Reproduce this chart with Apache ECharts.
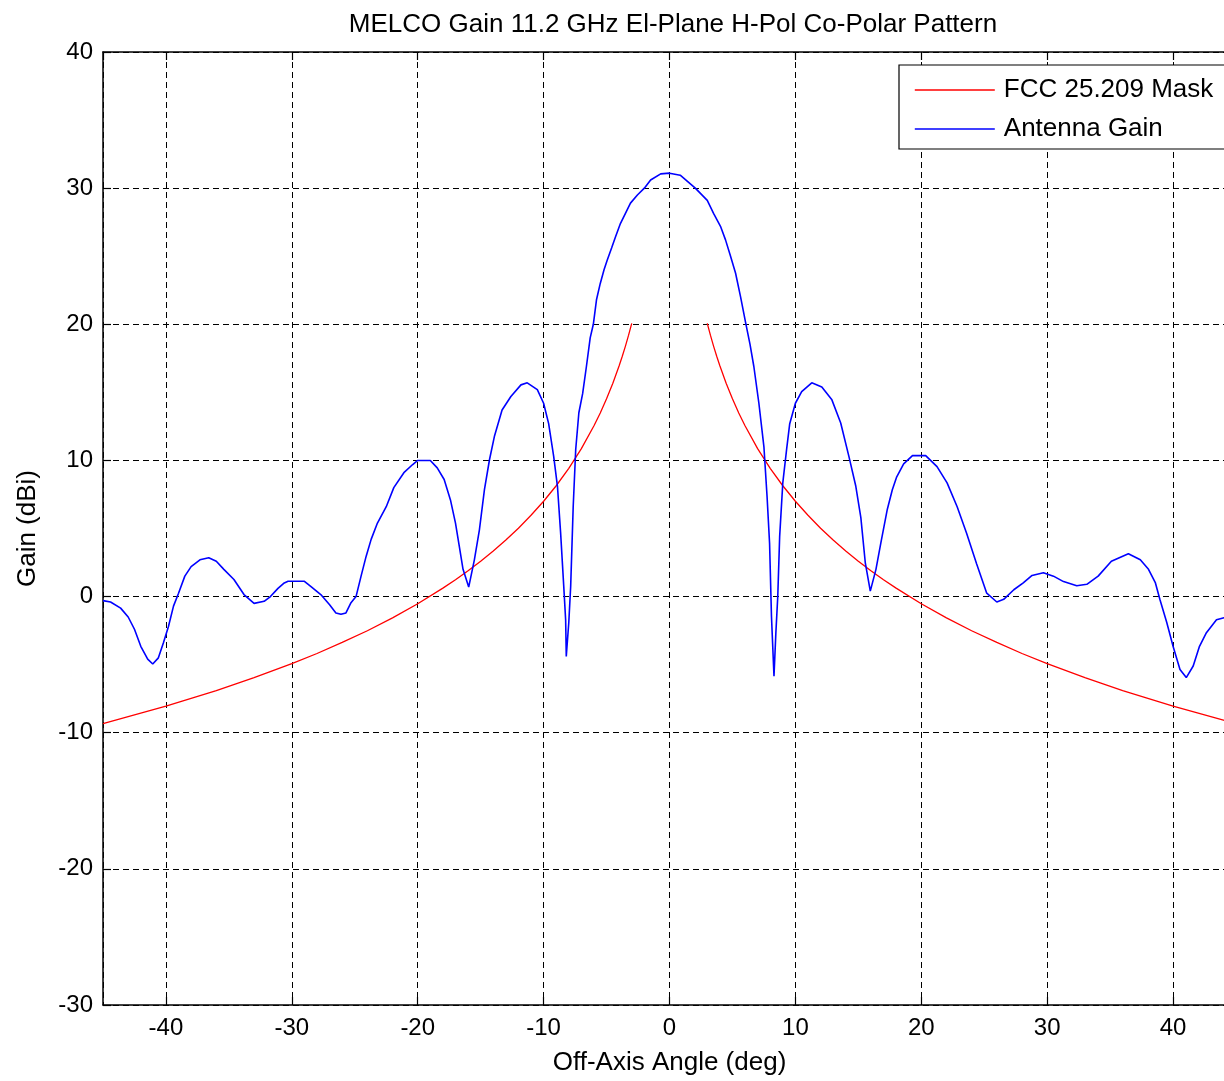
<!DOCTYPE html>
<html>
<head>
<meta charset="utf-8">
<script src="https://cdn.jsdelivr.net/npm/echarts@6/dist/echarts.min.js"></script>
<style>
html,body{margin:0;padding:0;background:#fff;overflow:hidden;width:1224px;height:1081px;}
#chart{width:1250px;height:1081px;}
</style>
</head>
<body>
<div id="chart"></div>
<script>
const titleText = 'MELCO Gain 11.2 GHz El-Plane H-Pol Co-Polar Pattern';
const xName = 'Off-Axis Angle (deg)';
const yName = 'Gain (dBi)';
const seriesNames = ['FCC 25.209 Mask', 'Antenna Gain'];

const blueAngle = [-45.0,-44.4,-43.6,-43.0,-42.5,-42.0,-41.45,-41.05,-40.6,-40.2,-39.8,-39.4,-39.0,-38.5,-38.0,-37.3,-36.6,-36.0,-35.4,-34.6,-33.8,-33.0,-32.2,-31.7,-31.1,-30.6,-30.3,-29.0,-28.5,-27.7,-27.0,-26.5,-26.1,-25.7,-25.3,-24.9,-24.5,-24.1,-23.7,-23.2,-22.5,-21.9,-21.1,-20.4,-20.0,-19.0,-18.45,-17.9,-17.4,-17.0,-16.7,-16.4,-15.95,-15.5,-15.1,-14.7,-14.3,-13.9,-13.3,-12.6,-11.8,-11.3,-10.5,-10.0,-9.6,-9.2,-8.9,-8.65,-8.4,-8.25,-8.2,-8.0,-7.85,-7.65,-7.45,-7.2,-6.9,-6.6,-6.3,-6.05,-5.8,-5.5,-5.2,-4.95,-4.6,-4.3,-3.9,-3.5,-3.1,-2.55,-2.0,-1.5,-0.7,0.0,0.85,2.05,3.0,3.5,4.05,4.45,4.85,5.25,5.65,6.05,6.4,6.7,7.1,7.5,7.75,7.95,8.1,8.3,8.45,8.6,8.75,9.0,9.3,9.55,10.0,10.5,11.3,12.1,12.9,13.6,14.25,14.8,15.2,15.55,15.95,16.4,16.8,17.3,17.7,18.05,18.6,19.3,20.35,21.25,22.05,22.85,23.6,24.4,25.2,26.0,26.55,27.35,28.1,28.8,29.7,30.5,31.3,32.35,33.15,34.05,35.1,36.45,37.4,38.05,38.6,38.95,39.5,40.0,40.55,41.05,41.6,42.1,42.65,43.45,44.05,45.0];
const blueGain = [-0.3,-0.4,-0.85,-1.5,-2.4,-3.65,-4.6,-4.95,-4.5,-3.4,-2.2,-0.7,0.25,1.5,2.2,2.7,2.85,2.6,2.0,1.25,0.15,-0.5,-0.35,0.0,0.6,1.0,1.12,1.12,0.75,0.15,-0.6,-1.2,-1.3,-1.2,-0.45,0.0,1.5,2.95,4.2,5.4,6.6,8.0,9.1,9.7,10.0,10.0,9.45,8.6,7.1,5.4,3.7,2.0,0.7,2.7,4.9,7.85,10.05,11.8,13.7,14.7,15.55,15.7,15.2,14.2,12.7,10.3,8.1,4.7,0.75,-1.7,-4.4,-1.9,0.75,6.6,10.8,13.5,14.9,16.9,19.0,20.0,21.8,23.0,24.0,24.7,25.6,26.4,27.4,28.15,28.9,29.5,30.0,30.6,31.05,31.1,30.95,30.0,29.1,28.15,27.2,26.2,25.0,23.75,22.0,20.1,18.5,16.9,14.2,11.0,7.35,3.9,-1.45,-5.85,-2.65,0.0,4.4,8.35,10.8,12.7,14.2,15.05,15.7,15.4,14.45,12.75,10.3,8.1,5.8,2.5,0.4,2.0,4.0,6.4,7.85,8.8,9.75,10.35,10.35,9.55,8.35,6.6,4.65,2.4,0.25,-0.4,-0.2,0.5,1.0,1.55,1.75,1.5,1.1,0.8,0.9,1.5,2.6,3.15,2.7,2.0,1.0,-0.2,-1.9,-3.65,-5.35,-5.95,-5.1,-3.65,-2.65,-1.7,-1.55,-1.4];

const maskAngleRight = [3.0,3.25,3.5,3.75,4,4.5,5,5.5,6,7,8,9,10,11,12,13,14,15,16,17,18,20,22,24,26,28,30,33,36,40,45];
const maskAngleLeft = [-3.0,-3.25,-3.5,-3.75,-4,-4.5,-5,-5.5,-6,-7,-8,-9,-10,-11,-12,-13,-14,-15,-16,-17,-18,-20,-22,-24,-26,-28,-30,-33,-36,-40,-45];
const maskGain = [20.07,19.2,18.4,17.65,16.95,15.67,14.53,13.49,12.55,10.87,9.42,8.14,7.0,5.97,5.02,4.15,3.35,2.6,1.9,1.24,0.62,-0.53,-1.56,-2.51,-3.37,-4.18,-4.93,-5.96,-6.91,-8.05,-9.33];

const xTicksMin = -45, xTicksMax = 45;
const yTicksMin = -30, yTicksMax = 40, yStep = 10;

const zip = (a, b) => a.map((v, i) => [v, b[i]]);

const chart = echarts.init(document.getElementById('chart'), null, {renderer: 'canvas'});
const font = '"Liberation Sans", Arial, sans-serif';
const gridDash = {color: '#000', width: 1, type: [6, 4]};

chart.setOption({
  backgroundColor: '#fff',
  animation: false,
  title: {
    text: titleText,
    left: 668, top: 7, textAlign: 'center',
    textStyle: {fontFamily: font, fontSize: 26, fontWeight: 'normal', color: '#000'}
  },
  legend: {
    data: seriesNames,
    orient: 'vertical',
    left: 899, top: 65,
    padding: [12, 40, 7, 15],
    itemWidth: 80, itemHeight: 24, itemGap: 13,
    backgroundColor: '#fff',
    borderColor: '#000', borderWidth: 1.2,
    itemStyle: {opacity: 0, borderWidth: 0},
    lineStyle: {width: 1.6},
    textStyle: {fontFamily: font, fontSize: 26, color: '#000', padding: [0, 0, 0, 4]},
    inactiveColor: '#ccc'
  },
  grid: {left: 103, top: 52, width: 1133, height: 954, containLabel: false},
  xAxis: [{
    type: 'value', min: xTicksMin, max: xTicksMax, splitNumber: 9,
    position: 'bottom',
    name: xName, nameLocation: 'middle', nameGap: 45,
    nameTextStyle: {fontFamily: font, fontSize: 26, color: '#000'},
    axisLine: {show: true, onZero: false, lineStyle: {color: '#000', width: 1.5}},
    axisTick: {show: true, inside: true, length: 8, lineStyle: {color: '#000', width: 1.2}},
    axisLabel: {
      fontFamily: font, fontSize: 24, color: '#000', margin: 11,
      showMinLabel: false, showMaxLabel: false,
      formatter: v => (v % 10 === 0 ? String(v) : '')
    },
    splitLine: {show: true, lineStyle: gridDash}
  }, {
    type: 'value', min: xTicksMin, max: xTicksMax, splitNumber: 9,
    position: 'top',
    axisLine: {show: true, onZero: false, lineStyle: {color: '#000', width: 1.5}},
    axisTick: {show: true, inside: true, length: 8, lineStyle: {color: '#000', width: 1.2}},
    axisLabel: {show: false},
    splitLine: {show: false}
  }],
  yAxis: [{
    type: 'value', min: yTicksMin, max: yTicksMax, interval: yStep,
    name: yName, nameLocation: 'middle', nameGap: 62, nameRotate: 90,
    nameTextStyle: {fontFamily: font, fontSize: 26, color: '#000'},
    axisLine: {show: true, onZero: false, lineStyle: {color: '#000', width: 1.5}},
    axisTick: {show: true, inside: true, length: 8, lineStyle: {color: '#000', width: 1.2}},
    axisLabel: {fontFamily: font, fontSize: 24, color: '#000', margin: 10},
    splitLine: {show: true, lineStyle: gridDash}
  }],
  series: [{
    name: seriesNames[0], type: 'line', symbol: 'none',
    data: zip(maskAngleLeft, maskGain),
    lineStyle: {color: '#ff0000', width: 1.3}, itemStyle: {color: '#ff0000'},
    z: 3
  }, {
    name: seriesNames[0], type: 'line', symbol: 'none',
    data: zip(maskAngleRight, maskGain),
    lineStyle: {color: '#ff0000', width: 1.3}, itemStyle: {color: '#ff0000'},
    z: 3
  }, {
    name: seriesNames[1], type: 'line', symbol: 'none',
    data: zip(blueAngle, blueGain),
    lineStyle: {color: '#0000ff', width: 1.6}, itemStyle: {color: '#0000ff'},
    z: 4
  }]
});
</script>
</body>
</html>
